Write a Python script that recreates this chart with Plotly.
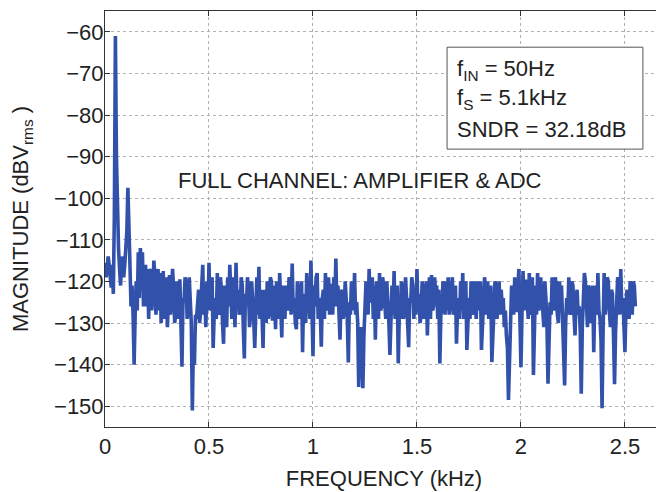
import numpy as np
import plotly.graph_objects as go

# Spectrum of the full channel (amplifier + ADC), 5 Hz bins up to fs/2.
# Values, split into the 10 Hz grid points and the bins in between.
bin_khz = 0.005
magnitude_even_bins = [
    -115.5, -117.5, -116, -121.5, -123, -61, -106, -117, -114, -119,
    -112, -97.5, -116, -121, -140, -120, -113, -112, -113, -122,
    -126, -129, -117, -122, -119, -123, -127, -130, -117.5, -124,
    -131, -118.5, -124, -122, -128, -121, -119.5, -140.5, -125, -120.5,
    -126, -128, -151, -140, -129, -122, -127, -116, -124, -120,
    -115.5, -126, -136, -124, -118, -128, -122, -135, -125, -119,
    -116, -129, -123, -115.5, -122, -127, -121, -138.5, -126, -122,
    -128, -124, -136, -119, -116.5, -122, -136, -124, -120, -127,
    -120, -129, -131.5, -124, -118, -133.5, -126, -121, -127, -120,
    -115.7, -124, -131.5, -122, -127, -137, -125, -118, -123, -115,
    -138, -126, -118, -124, -135.7, -122, -118, -124, -128, -121,
    -119, -114.5, -121, -134, -122, -127, -124, -139.5, -128, -121,
    -118, -125, -145.4, -131, -145.7, -128, -121, -117, -124, -129,
    -134, -122, -118, -126, -121, -129, -124, -137.7, -121, -117.5,
    -126, -139.7, -129, -122, -127, -124, -135.8, -125, -121, -124,
    -117, -123, -128, -122, -127, -133, -119, -118.5, -126, -123,
    -129, -139.7, -127, -121, -120, -119, -125, -119, -127, -135,
    -124, -120, -118, -125, -136.5, -124, -120, -128, -124, -120,
    -127, -136.5, -125, -122, -120, -126, -139.4, -127, -121, -125,
    -128, -126, -131, -133, -148.5, -130, -124, -119, -127, -117,
    -140.6, -117.5, -120, -125, -118, -128, -142.5, -121, -118, -126,
    -122, -131, -124, -144.6, -125, -119, -127, -121, -130, -123,
    -128, -145, -124, -119, -128, -121, -133, -122, -126, -147,
    -125, -120, -131, -122, -127, -137, -121, -118, -129, -150.5,
    -118, -125, -120, -131, -123, -144.7, -126, -120, -117, -124,
    -137, -122, -129, -121, -120, -126,
]
magnitude_odd_bins = [
    -119, -114, -120, -116, -104, -90, -112, -121, -118, -116,
    -108, -104, -126, -128, -128, -127, -124, -119, -126, -116,
    -117, -118, -127, -115, -128, -117, -118, -121, -129, -119,
    -121, -128, -117, -130, -120, -129, -127, -124, -119, -129,
    -119, -130, -135, -128, -124, -130, -121, -128, -131, -127,
    -127, -119, -128, -129, -127, -119, -130, -121, -131, -126,
    -126, -119, -131, -126, -128, -119, -131, -123, -119, -131,
    -120, -129, -124, -128, -129, -128, -122, -130, -129, -119,
    -129, -121, -120, -129, -127, -121, -129, -126, -119, -128,
    -127, -130, -120, -129, -120, -123, -130, -127, -129, -126,
    -121, -119, -129, -127, -124, -129, -127, -119, -121, -128,
    -126, -126, -129, -123, -129, -120, -129, -125, -120, -127,
    -128, -130, -132, -138, -133, -120, -128, -125, -119, -121,
    -120, -129, -127, -119, -128, -120, -130, -123, -128, -129,
    -121, -128, -120, -129, -119, -129, -124, -119, -129, -128,
    -127, -130, -120, -129, -120, -124, -129, -127, -119, -121,
    -122, -128, -120, -128, -127, -128, -120, -128, -121, -127,
    -129, -127, -129, -120, -127, -129, -126, -120, -129, -122,
    -120, -127, -119, -128, -129, -121, -130, -120, -129, -120,
    -122, -124, -127, -136, -138, -121, -128, -127, -121, -129,
    -128, -127, -120, -129, -127, -119, -130, -128, -127, -119,
    -127, -120, -130, -132, -128, -125, -119, -128, -120, -121,
    -135, -130, -128, -127, -120, -128, -124, -128, -132, -131,
    -118, -128, -121, -130, -121, -125, -128, -127, -134, -132,
    -128, -119, -127, -122, -133, -132, -119, -128, -127, -129,
    -126, -127, -120, -128, -121,
]
magnitude_dbv = np.empty(len(magnitude_even_bins) + len(magnitude_odd_bins))
magnitude_dbv[0::2] = magnitude_even_bins
magnitude_dbv[1::2] = magnitude_odd_bins
freq_khz = np.arange(len(magnitude_dbv)) * bin_khz

x_ticks = [0, 0.5, 1, 1.5, 2, 2.5]
x_tick_labels = ["0", "0.5", "1", "1.5", "2", "2.5"]
y_ticks = [-150, -140, -130, -120, -110, -100, -90, -80, -70, -60]

info_lines = ["f<sub>IN</sub> = 50Hz", "f<sub>S</sub> = 5.1kHz", "SNDR = 32.18dB"]
info_y = [0.858, 0.789, 0.714]
channel_label = "FULL CHANNEL: AMPLIFIER & ADC"

FONT = "Liberation Sans, Arial, Helvetica, sans-serif"
TXT = "#222222"

fig = go.Figure()
fig.add_trace(go.Scatter(
    x=freq_khz, y=magnitude_dbv, mode="lines",
    line=dict(color="#3251aa", width=3.6),
    showlegend=False, hoverinfo="skip",
))

axis_common = dict(
    showline=True, linecolor="#333333", linewidth=1,
    ticks="inside", ticklen=5, tickcolor="#333333",
    showgrid=True, gridcolor="#b0b0b0", griddash="dot", gridwidth=1,
    zeroline=False, automargin=False,
    tickfont=dict(family=FONT, size=22, color=TXT),
)

fig.update_xaxes(
    range=[0, 2.683], tickvals=x_ticks, ticktext=x_tick_labels,
    mirror="ticks",
    title=dict(text="FREQUENCY (kHz)", font=dict(family=FONT, size=22, color=TXT), standoff=12),
    **axis_common,
)
fig.update_yaxes(
    range=[-155, -55], tickvals=y_ticks, ticklabelstandoff=-4,
    title=dict(text="MAGNITUDE (dBV<sub>rms</sub> )", font=dict(family=FONT, size=22, color=TXT), standoff=22),
    **axis_common,
)

# info box in the top right corner
fig.add_shape(type="rect", xref="paper", yref="paper",
              x0=0.613, x1=0.964, y0=0.668, y1=0.913, line=dict(color="#555555", width=1),
              fillcolor="white", layer="above")
for txt, yy in zip(info_lines, info_y):
    fig.add_annotation(xref="paper", yref="paper", x=0.627, y=yy,
                       text=txt, showarrow=False, xanchor="left", yanchor="middle",
                       font=dict(family=FONT, size=22, color=TXT))

fig.add_annotation(x=1.226, y=-95.8, text=channel_label, showarrow=False,
                   xanchor="center", yanchor="middle",
                   font=dict(family=FONT, size=22, color=TXT))

# the page body keeps an 8 px margin, so the figure is 8 px smaller each way
fig.update_layout(
    width=656, height=484,
    margin=dict(l=97, r=1, t=3, b=65),
    plot_bgcolor="white", paper_bgcolor="white",
)

fig.write_html("out.html")
